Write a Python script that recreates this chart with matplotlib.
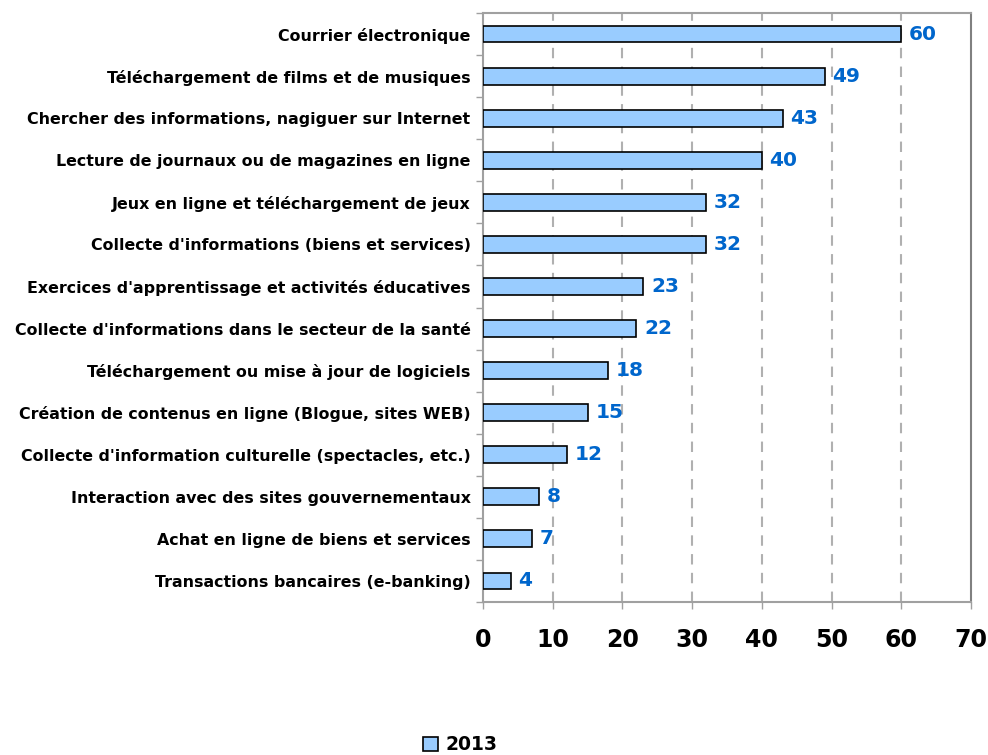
import matplotlib
matplotlib.use("Agg")
import matplotlib.pyplot as plt
import numpy as np

categories = [
    "Courrier électronique",
    "Téléchargement de films et de musiques",
    "Chercher des informations, nagiguer sur Internet",
    "Lecture de journaux ou de magazines en ligne",
    "Jeux en ligne et téléchargement de jeux",
    "Collecte d'informations (biens et services)",
    "Exercices d'apprentissage et activités éducatives",
    "Collecte d'informations dans le secteur de la santé",
    "Téléchargement ou mise à jour de logiciels",
    "Création de contenus en ligne (Blogue, sites WEB)",
    "Collecte d'information culturelle (spectacles, etc.)",
    "Interaction avec des sites gouvernementaux",
    "Achat en ligne de biens et services",
    "Transactions bancaires (e-banking)",
]
values = [60, 49, 43, 40, 32, 32, 23, 22, 18, 15, 12, 8, 7, 4]
series_name = "2013"
xticks = [0, 10, 20, 30, 40, 50, 60, 70]

plt.rcParams['font.family'] = ['DejaVu Sans']
plt.rcParams['font.weight'] = 'bold'

fig = plt.figure(figsize=(9.88, 7.55), dpi=100)
ax = fig.add_axes([483/988, 1-602/755, (971-483)/988, (602-13)/755])

n = len(categories)
y = np.arange(n)
bars = ax.barh(y, values, height=0.4, color="#99CCFF", edgecolor="black",
               linewidth=1.2, label=series_name, zorder=3)
ax.set_ylim(n - 0.5, -0.5)
ax.set_xlim(0, 70)
ax.set_yticks(y)
ax.set_yticklabels(categories, fontsize=11.4, fontweight='bold')
ax.tick_params(axis='y', length=0, pad=9)
ax.set_yticks(np.arange(-0.5, n, 1), minor=True)
ax.tick_params(axis='y', which='minor', length=5, color='#A0A0A0', width=1)
ax.set_xticks(xticks)
ax.set_xticklabels([str(t) for t in xticks], fontsize=17, fontweight='bold')
ax.tick_params(axis='x', length=5, color='#A0A0A0', width=1, pad=14)

for v in xticks[1:-1]:
    ax.axvline(v, color='#B0B0B0', linestyle=(0, (5, 4)), linewidth=1.5, zorder=1)

for b, v in zip(bars, values):
    ax.text(v + 1.1, b.get_y() + b.get_height() / 2, str(v), color="#0066CC",
            fontsize=14.5, fontweight='bold', va='center', ha='left', zorder=4)

for s in ['left', 'bottom', 'top']:
    ax.spines[s].set_color('#A0A0A0')
    ax.spines[s].set_linewidth(1.5)
ax.spines['right'].set_color('#808080')
ax.spines['right'].set_linewidth(1.5)

leg = fig.legend(handles=[bars], labels=[series_name], loc='center',
                 bbox_to_anchor=(460/988, 1-745/755), frameon=False,
                 prop={'weight': 'bold', 'size': 13.5}, handlelength=0.8,
                 handleheight=0.8, handletextpad=0.4)

fig.savefig("out.png", dpi=100)
